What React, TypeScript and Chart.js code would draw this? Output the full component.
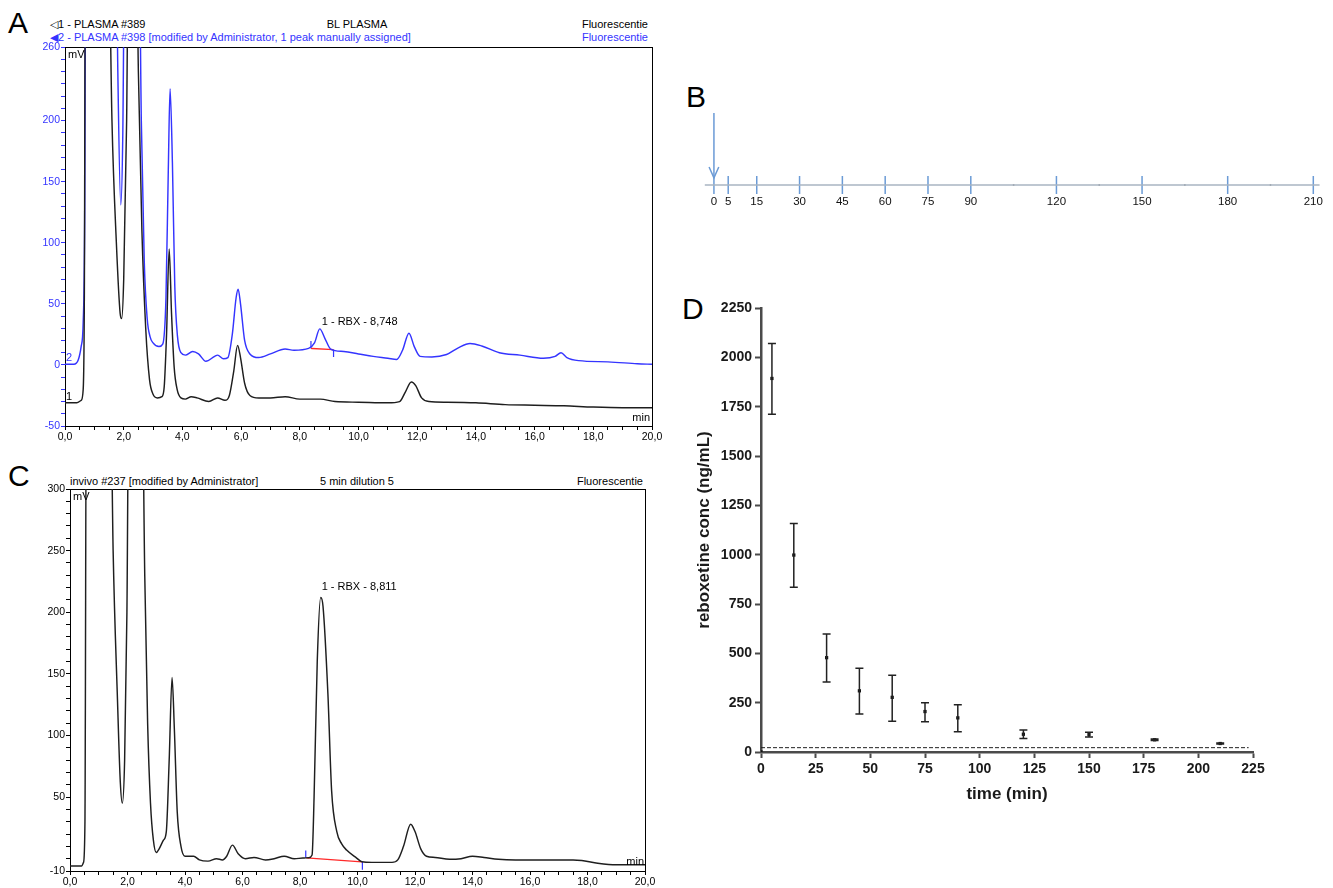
import React, { useEffect, useRef } from "react";
import { Chart, registerables } from "chart.js";

Chart.register(...registerables);

const FONT = "'Liberation Sans', Arial, Helvetica, sans-serif";
const BLUE = "#3434ff";
const RED = "#ff2a2a";
const TL_BLUE = "#6b9bd6";

// ---------------- Panel A (chromatograms, [time min, signal mV]) ----------------
const aTrace1: number[][] = [
  [0, -31], [0.4, -31], [0.55, -29], [0.62, -20], [0.66, 60], [0.7, 400], [1.45, 400], [1.6, 200],
  [1.75, 100], [1.88, 42], [1.93, 38], [2.0, 70], [2.1, 200], [2.18, 400], [2.4, 400], [2.5, 240],
  [2.62, 110], [2.75, 30], [2.88, -12], [3.0, -24], [3.15, -27], [3.3, -26], [3.38, -18], [3.46, 25],
  [3.55, 95], [3.63, 42], [3.72, -2], [3.82, -20], [3.95, -27], [4.1, -28], [4.3, -26], [4.5, -27],
  [4.9, -30], [5.2, -27], [5.45, -29], [5.6, -25], [5.75, -5], [5.88, 16], [5.98, 6], [6.12, -15],
  [6.3, -25], [6.6, -27], [7.0, -27], [7.5, -26], [8.0, -28], [8.7, -28], [9.2, -30], [10.0, -30.5],
  [11.0, -31], [11.4, -30], [11.6, -22], [11.8, -14], [11.95, -17], [12.15, -27], [12.4, -30],
  [13.0, -30.5], [14.0, -31], [15.0, -32.5], [16.0, -33], [17.0, -33.5], [18.0, -34.5], [19.0, -35], [20, -35],
];
const aTrace2: number[][] = [
  [0, 0.5], [0.3, 0.5], [0.45, 4], [0.55, 15], [0.62, 35], [0.67, 120], [0.71, 400], [1.72, 400],
  [1.8, 240], [1.9, 131], [1.97, 190], [2.05, 400], [2.5, 400], [2.6, 200], [2.7, 85], [2.8, 38],
  [2.9, 23], [3.0, 18], [3.2, 15], [3.33, 17], [3.44, 55], [3.52, 160], [3.58, 226], [3.66, 165],
  [3.74, 65], [3.83, 24], [3.95, 10], [4.1, 8], [4.35, 11], [4.55, 9], [4.8, 3], [5.1, 7], [5.2, 8],
  [5.4, 5], [5.55, 6], [5.7, 25], [5.83, 55], [5.9, 62], [5.98, 50], [6.12, 20], [6.3, 9], [6.6, 6],
  [7.0, 9], [7.5, 13], [7.8, 12], [8.3, 13.5], [8.5, 18], [8.68, 29.5], [8.85, 22], [9.05, 13],
  [9.5, 11], [10.0, 9], [10.5, 7], [11.0, 5.5], [11.3, 4.5], [11.5, 12], [11.72, 26], [11.9, 15],
  [12.1, 7], [12.5, 6.5], [13.0, 8.5], [13.4, 14], [13.8, 17.5], [14.2, 15.5], [14.8, 10], [15.5, 8],
  [16.3, 5.5], [16.7, 7], [16.9, 10], [17.1, 6], [17.5, 3.5], [18.5, 2.5], [19.5, 1], [20, 0.5],
];
const aRbxBaseline: number[][] = [[8.38, 13.5], [9.15, 12.5]];
const aRbxStartMark: number[][] = [[8.38, 13.5], [8.38, 19.5]];
const aRbxEndMark: number[][] = [[9.15, 12.5], [9.15, 6.5]];
const aRbxPeak = { t: 8.68, mv: 29.5, label: "1 - RBX - 8,748" };

// ---------------- Panel C ----------------
const cTrace: number[][] = [
  [0, -6], [0.4, -6], [0.47, -3], [0.52, 30], [0.57, 400], [1.4, 400], [1.5, 250], [1.65, 130],
  [1.75, 62], [1.82, 45], [1.9, 80], [1.98, 200], [2.05, 400], [2.5, 400], [2.6, 230], [2.7, 110],
  [2.8, 45], [2.9, 15], [3.0, 5], [3.1, 8], [3.25, 15], [3.35, 22], [3.45, 80], [3.55, 147],
  [3.63, 105], [3.73, 38], [3.86, 10], [4.0, 2], [4.3, 2], [4.5, -1], [4.8, -2], [5.1, 0], [5.3, -1],
  [5.45, 2], [5.65, 11], [5.85, 4], [6.1, 0], [6.4, 1], [6.8, -1], [7.1, 0], [7.45, 2], [7.8, 0],
  [8.1, 0.5], [8.3, 0.8], [8.42, 3], [8.49, 50], [8.6, 160], [8.72, 212], [8.8, 205], [8.97, 134],
  [9.1, 55], [9.28, 22], [9.45, 12], [9.62, 7], [9.97, 0.5], [10.15, -2.5], [10.5, -3], [11.2, -3],
  [11.4, -1], [11.6, 10], [11.85, 28], [12.0, 22], [12.2, 8], [12.4, 2], [12.7, 1], [13.2, -0.5],
  [13.6, 0], [14.0, 2], [14.4, 1], [14.9, -0.5], [15.5, -1], [16.5, -1], [17.5, -1], [17.8, -1.5],
  [18.3, -3.5], [19.0, -5], [20, -5],
];
const cRbxBaseline: number[][] = [[8.22, 0.7], [10.15, -2.6]];
const cRbxStartMark: number[][] = [[8.2, 0.7], [8.2, 6.7]];
const cRbxEndMark: number[][] = [[10.17, -2.6], [10.17, -9]];
const cRbxPeak = { t: 8.72, mv: 212, label: "1 - RBX - 8,811" };

// ---------------- Panel B (sampling timeline, min) ----------------
const bSampleTimes = [0, 5, 15, 30, 45, 60, 75, 90, 120, 150, 180, 210];
const bMinorTimes = [105, 135, 165, 195];

// ---------------- Panel D (reboxetine conc, ng/mL) ----------------
const dTime = [0, 5, 15, 30, 45, 60, 75, 90, 120, 150, 180, 210];
const dMean = [0, 1893, 998, 478, 310, 277, 205, 173, 90, 88, 62, 43];
const dLow = [0, 1712, 835, 355, 193, 156, 153, 102, 68, 76, 58, 40];
const dHigh = [0, 2070, 1158, 598, 424, 389, 249, 239, 112, 100, 66, 46];
const dLloq = 22;

const toPts = (a: number[][]) => a.map(([x, y]) => ({ x, y }));

const labelPlugin = {
  id: "labelPlugin",
  afterDatasetsDraw(chart: any, _args: any, opts: any) {
    const items = (opts && opts.items) || [];
    const { ctx, chartArea, scales } = chart;
    ctx.save();
    items.forEach((it: any) => {
      let px: number, py: number;
      if (it.area) {
        px = (it.ax === "right" ? chartArea.right : chartArea.left) + (it.dx || 0);
        py = (it.ay === "bottom" ? chartArea.bottom : chartArea.top) + (it.dy || 0);
      } else {
        px = scales.x.getPixelForValue(it.x) + (it.dx || 0);
        py = scales.y.getPixelForValue(it.y) + (it.dy || 0);
      }
      ctx.font = it.font || `11px ${FONT}`;
      ctx.fillStyle = it.color || "#000";
      ctx.textAlign = it.align || "left";
      ctx.textBaseline = "middle";
      ctx.fillText(it.text, px, py);
    });
    ctx.restore();
  },
};

const errorBarPlugin = {
  id: "errorBars",
  afterDatasetsDraw(chart: any) {
    const { ctx, scales } = chart;
    const cap = 4;
    ctx.save();
    ctx.strokeStyle = "#222";
    ctx.lineWidth = 1.5;
    dTime.forEach((t, i) => {
      if (dHigh[i] === dLow[i]) return;
      const px = scales.x.getPixelForValue(t);
      const top = scales.y.getPixelForValue(dHigh[i]);
      const bot = scales.y.getPixelForValue(dLow[i]);
      ctx.beginPath();
      ctx.moveTo(px, top);
      ctx.lineTo(px, bot);
      ctx.moveTo(px - cap, top);
      ctx.lineTo(px + cap, top);
      ctx.moveTo(px - cap, bot);
      ctx.lineTo(px + cap, bot);
      ctx.stroke();
    });
    ctx.restore();
  },
};

const isMult = (v: number, m: number) => Math.abs(v / m - Math.round(v / m)) < 1e-6;

function chromConfig(o: any) {
  const frame = { display: true, color: "#000", width: 1 };
  const lineDs = (pts: number[][], color: string, width = 1.45) => ({
    data: toPts(pts),
    showLine: true,
    borderColor: color,
    borderWidth: width,
    pointRadius: 0,
    cubicInterpolationMode: "monotone",
  });
  return {
    type: "scatter",
    data: { datasets: o.datasets.map((d: any) => lineDs(d.pts, d.color, d.width)) },
    options: {
      animation: false,
      responsive: false,
      layout: { padding: 0 },
      plugins: { legend: { display: false }, tooltip: { enabled: false }, labelPlugin: { items: o.labels } },
      scales: {
        x: {
          type: "linear",
          position: "bottom",
          min: 0,
          max: 20,
          afterBuildTicks: (s: any) => {
            const t = [];
            for (let v = 0; v <= 20.0001; v += 0.5) t.push({ value: Math.round(v * 10) / 10 });
            s.ticks = t;
          },
          afterFit: (s: any) => { s.height = o.bottomH; },
          ticks: {
            autoSkip: false,
            maxRotation: 0,
            padding: 1,
            color: "#000",
            font: { family: FONT, size: 10.5 },
            callback: (v: number) => (isMult(v, 2) ? v.toFixed(1).replace(".", ",") : ""),
          },
          grid: { drawOnChartArea: false, drawTicks: true, tickLength: 4, tickColor: "#000" },
          border: frame,
        },
        y: {
          type: "linear",
          position: "left",
          min: o.yMin,
          max: o.yMax,
          afterBuildTicks: (s: any) => {
            const t = [];
            for (let v = o.yMin; v <= o.yMax; v += 10) t.push({ value: v });
            s.ticks = t;
          },
          afterFit: (s: any) => { s.width = o.leftW; },
          ticks: {
            autoSkip: false,
            padding: 1,
            color: o.yColor,
            font: { family: FONT, size: 10.5 },
            callback: (v: number) => (o.yLabeled(v) ? String(v) : ""),
          },
          grid: { drawOnChartArea: false, drawTicks: true, tickLength: 4, tickColor: o.yColor },
          border: frame,
        },
        x2: {
          type: "linear",
          position: "top",
          min: 0,
          max: 20,
          afterFit: (s: any) => { s.height = o.topH; },
          ticks: { display: false },
          grid: { display: false, drawTicks: false },
          border: frame,
        },
        y2: {
          type: "linear",
          position: "right",
          min: 0,
          max: 1,
          afterFit: (s: any) => { s.width = o.rightW; },
          ticks: { display: false },
          grid: { display: false, drawTicks: false },
          border: frame,
        },
      },
    },
    plugins: [labelPlugin],
  };
}

function configA() {
  return chromConfig({
    yMin: -50,
    yMax: 260,
    yColor: BLUE,
    yLabeled: (v: number) => (isMult(v, 50) && v !== 250) || v === 260,
    leftW: 65,
    rightW: 13,
    topH: 5,
    bottomH: 24,
    datasets: [
      { pts: aTrace1, color: "#1e1e1e" },
      { pts: aTrace2, color: BLUE },
      { pts: aRbxBaseline, color: RED, width: 1.3 },
      { pts: aRbxStartMark, color: BLUE, width: 1.2 },
      { pts: aRbxEndMark, color: BLUE, width: 1.2 },
    ],
    labels: [
      { area: true, ax: "left", ay: "top", dx: 3, dy: 8, text: "mV" },
      { area: true, ax: "right", ay: "bottom", dx: -2, dy: -8, text: "min", align: "right" },
      { x: 0, y: 0.5, dx: 1, dy: -6, text: "2", color: BLUE },
      { x: 0, y: -31, dx: 1, dy: -6, text: "1" },
      { x: aRbxPeak.t, y: aRbxPeak.mv, dx: 2, dy: -7, text: aRbxPeak.label },
    ],
  });
}

function configC() {
  return chromConfig({
    yMin: -10,
    yMax: 300,
    yColor: "#000",
    yLabeled: (v: number) => (isMult(v, 50) && v > 0) || v === -10,
    leftW: 70,
    rightW: 15,
    topH: 9,
    bottomH: 17,
    datasets: [
      { pts: cTrace, color: "#1e1e1e" },
      { pts: cRbxBaseline, color: RED, width: 1.3 },
      { pts: cRbxStartMark, color: BLUE, width: 1.2 },
      { pts: cRbxEndMark, color: BLUE, width: 1.2 },
    ],
    labels: [
      { area: true, ax: "left", ay: "top", dx: 3, dy: 8, text: "mV" },
      { area: true, ax: "right", ay: "bottom", dx: -1, dy: -9, text: "min", align: "right" },
      { x: cRbxPeak.t, y: cRbxPeak.mv, dx: 1, dy: -10, text: cRbxPeak.label },
    ],
  });
}

function configB() {
  return {
    type: "scatter",
    data: {
      datasets: [
        { data: [{ x: -3.2, y: 0 }, { x: 212.2, y: 0 }], showLine: true, borderColor: "#a9b4c2", borderWidth: 1.6, pointRadius: 0, clip: false },
        { data: bSampleTimes.map((t) => ({ x: t, y: 0 })), pointStyle: "line", rotation: 90, pointRadius: 9, borderColor: TL_BLUE, borderWidth: 1.5, clip: false },
        { data: bMinorTimes.map((t) => ({ x: t, y: 0 })), pointStyle: "circle", pointRadius: 0.9, backgroundColor: "#888", borderWidth: 0, clip: false },
        { data: [{ x: 0, y: 1 }, { x: 0, y: 0.1 }], showLine: true, borderColor: TL_BLUE, borderWidth: 1.5, pointRadius: 0, clip: false },
        { data: [{ x: -1.7, y: 0.25 }, { x: 0, y: 0.1 }, { x: 1.7, y: 0.25 }], showLine: true, borderColor: TL_BLUE, borderWidth: 1.5, pointRadius: 0, clip: false },
      ],
    },
    options: {
      animation: false,
      responsive: false,
      layout: { padding: { top: 13, left: 14.8, right: 10.6, bottom: 0 } },
      plugins: { legend: { display: false }, tooltip: { enabled: false } },
      scales: {
        x: {
          type: "linear",
          min: -3.2,
          max: 212.2,
          afterBuildTicks: (s: any) => { s.ticks = bSampleTimes.map((v) => ({ value: v })); },
          afterFit: (s: any) => { s.height = 45; },
          ticks: { autoSkip: false, maxRotation: 0, padding: 10, color: "#111", font: { family: FONT, size: 11.5 } },
          grid: { display: false, drawTicks: false },
          border: { display: false },
        },
        y: { type: "linear", min: 0, max: 1, display: false },
      },
    },
  };
}

function configD() {
  const axisColor = "#4a4a4a";
  const tickFont = { family: FONT, size: 14, weight: "bold" };
  const titleFont = { family: FONT, size: 17, weight: "bold" };
  return {
    type: "scatter",
    data: {
      datasets: [
        { data: dTime.map((t, i) => ({ x: t, y: dMean[i] })), pointStyle: "rect", pointRadius: 2.3, backgroundColor: "#111", borderColor: "#111", borderWidth: 0 },
        { data: [{ x: 0, y: dLloq }, { x: 223, y: dLloq }], showLine: true, borderColor: "#222", borderWidth: 1, borderDash: [4, 2], pointRadius: 0 },
      ],
    },
    options: {
      animation: false,
      responsive: false,
      layout: { padding: { top: 48, right: 37, left: 0, bottom: 0 } },
      plugins: { legend: { display: false }, tooltip: { enabled: false } },
      scales: {
        x: {
          type: "linear",
          min: 0,
          max: 225,
          afterFit: (s: any) => { s.height = 68; },
          ticks: { stepSize: 25, autoSkip: false, maxRotation: 0, padding: 3, color: "#1a1a1a", font: tickFont, callback: (v: number) => String(v) },
          grid: { drawOnChartArea: false, drawTicks: true, tickLength: 6, tickColor: axisColor, tickWidth: 2 },
          border: { display: true, color: axisColor, width: 2.5 },
          title: { display: true, text: "time (min)", color: "#1a1a1a", font: titleFont, padding: { top: 0, bottom: 15 } },
        },
        y: {
          type: "linear",
          min: 0,
          max: 2250,
          afterFit: (s: any) => { s.width = 71; },
          ticks: { stepSize: 250, autoSkip: false, padding: 3, color: "#1a1a1a", font: tickFont, callback: (v: number) => String(v) },
          grid: { drawOnChartArea: false, drawTicks: true, tickLength: 6, tickColor: axisColor, tickWidth: 2 },
          border: { display: true, color: axisColor, width: 2.5 },
          title: { display: true, text: "reboxetine conc (ng/mL)", color: "#1a1a1a", font: titleFont, padding: { top: 4, bottom: 0 } },
        },
      },
    },
    plugins: [errorBarPlugin],
  };
}

function ChartCanvas(props: { left: number; top: number; width: number; height: number; make: () => any }) {
  const ref = useRef<HTMLCanvasElement | null>(null);
  useEffect(() => {
    const chart = new Chart(ref.current as HTMLCanvasElement, props.make());
    return () => chart.destroy();
  }, []);
  return (
    <canvas
      ref={ref}
      width={props.width}
      height={props.height}
      style={{ position: "absolute", left: props.left, top: props.top, width: props.width, height: props.height }}
    />
  );
}

const txt = (left: number, top: number, text: string, extra: any = {}) => (
  <div
    style={{
      position: "absolute",
      left,
      top,
      font: `11px ${FONT}`,
      lineHeight: "13px",
      whiteSpace: "nowrap",
      color: "#000",
      ...extra,
    }}
  >
    {text}
  </div>
);

const letter = (left: number, top: number, text: string) => (
  <div style={{ position: "absolute", left, top, font: `30px ${FONT}`, lineHeight: "30px", color: "#000" }}>{text}</div>
);

export default function App() {
  return (
    <div style={{ position: "absolute", left: 0, top: 0, width: 1333, height: 888, background: "#fff", overflow: "hidden" }}>
      {letter(8, 8, "A")}
      {letter(686, 82, "B")}
      {letter(8, 461, "C")}
      {letter(682, 294, "D")}

      {txt(50, 18, "\u25C11 - PLASMA #389")}
      {txt(300, 18, "BL PLASMA", { width: 114, textAlign: "center" })}
      {txt(548, 18, "Fluorescentie", { width: 100, textAlign: "right" })}
      {txt(50, 31, "\u25C02 - PLASMA #398 [modified by Administrator, 1 peak manually assigned]", { color: BLUE })}
      {txt(548, 31, "Fluorescentie", { width: 100, textAlign: "right", color: BLUE })}

      {txt(70, 475, "invivo #237 [modified by Administrator]")}
      {txt(300, 475, "5 min dilution 5", { width: 114, textAlign: "center" })}
      {txt(543, 475, "Fluorescentie", { width: 100, textAlign: "right" })}

      <ChartCanvas left={0} top={40} width={665} height={410} make={configA} />
      <ChartCanvas left={0} top={480} width={660} height={408} make={configC} />
      <ChartCanvas left={690} top={100} width={643} height={130} make={configB} />
      <ChartCanvas left={690} top={260} width={600} height={560} make={configD} />
    </div>
  );
}
